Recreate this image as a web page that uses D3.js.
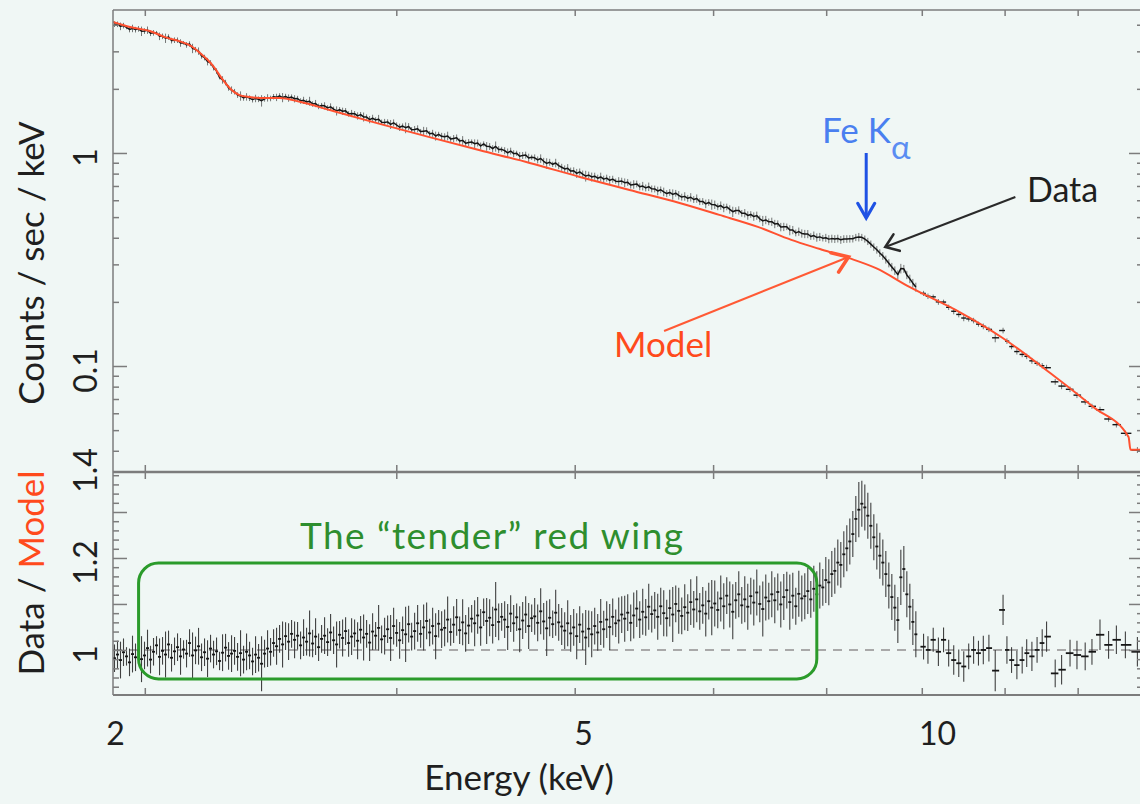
<!DOCTYPE html>
<html>
<head>
<meta charset="utf-8">
<script src="https://cdn.jsdelivr.net/npm/d3@7"></script>
<style>
  html, body { margin: 0; padding: 0; background: #f0f7f5; }
  svg { display: block; font-family: Lato, "Open Sans", sans-serif; }
</style>
</head>
<body>
<svg id="chart" width="1140" height="804"></svg>
<script>
// ---------------- data ----------------
// Continuum model (counts / sec / keV) at knot energies (keV)
const modelEnergy = [1.90, 1.953, 2.016, 2.066, 2.119, 2.154, 2.186, 2.214, 2.238, 2.263, 2.293, 2.330, 2.368, 2.426,
  2.485, 2.568, 2.695, 2.921, 3.16, 3.433, 3.72, 4.033, 4.37, 4.737, 5.05, 5.374, 5.672, 5.94, 6.225, 6.502, 6.862,
  7.44, 7.98, 8.61, 9.23, 9.77, 9.80, 10.0];
const modelFlux = [4.12, 3.90, 3.74, 3.50, 3.33, 3.18, 2.95, 2.73, 2.51, 2.25, 2.02, 1.87, 1.83, 1.81,
  1.81, 1.74, 1.59, 1.37, 1.19, 1.03, 0.898, 0.772, 0.670, 0.582, 0.512, 0.450, 0.391, 0.354, 0.321, 0.288, 0.235,
  0.179, 0.135, 0.0927, 0.0642, 0.0464, 0.0405, 0.0405];

// Fine channels: equal log-width bins between these energies (keV)
const denseStart = 1.9, denseEnd = 6.95;
// Data / model ratio in each fine channel
const denseRatio = [
  0.982, 0.990, 0.978, 0.995, 0.986, 0.973, 0.991, 0.984, 0.999, 0.980,
  0.988, 1.004, 0.979, 0.996, 1.010, 0.985, 0.998, 0.990, 1.012, 0.983,
  0.997, 1.006, 0.986, 1.001, 0.992, 1.015, 0.988, 0.999, 1.008, 0.984,
  0.995, 0.981, 1.003, 0.990, 0.997, 0.976, 0.994, 1.005, 0.987, 0.992,
  0.998, 0.985, 0.993, 0.979, 0.996, 0.988, 0.975, 0.990, 0.983, 0.970,
  0.992, 1.003, 0.996, 1.015, 1.008, 1.024, 1.012, 1.030, 1.018, 1.035,
  1.022, 1.031, 1.010, 1.027, 1.018, 1.036, 1.014, 1.029, 1.006, 1.024,
  1.031, 1.017, 1.038, 1.021, 1.012, 1.033, 1.026, 1.041, 1.015, 1.029,
  1.036, 1.020, 1.044, 1.027, 1.035, 1.016, 1.040, 1.031, 1.048, 1.023,
  1.030, 1.045, 1.026, 1.052, 1.037, 1.021, 1.043, 1.034, 1.056, 1.029,
  1.041, 1.058, 1.035, 1.049, 1.063, 1.038, 1.052, 1.030, 1.057, 1.044,
  1.048, 1.066, 1.039, 1.055, 1.071, 1.043, 1.060, 1.036, 1.053, 1.068,
  1.058, 1.075, 1.049, 1.082, 1.063, 1.070, 1.054, 1.088, 1.061, 1.072,
  1.066, 1.050, 1.079, 1.058, 1.071, 1.045, 1.064, 1.077, 1.052, 1.069,
  1.073, 1.059, 1.084, 1.062, 1.047, 1.070, 1.056, 1.081, 1.060, 1.051,
  1.042, 1.058, 1.036, 1.049, 1.030, 1.055, 1.040, 1.027, 1.046, 1.034,
  1.052, 1.038, 1.061, 1.045, 1.066, 1.050, 1.072, 1.058, 1.064, 1.077,
  1.068, 1.081, 1.059, 1.075, 1.090, 1.066, 1.083, 1.071, 1.094, 1.078,
  1.086, 1.072, 1.095, 1.080, 1.069, 1.091, 1.077, 1.100, 1.085, 1.074,
  1.093, 1.081, 1.104, 1.088, 1.110, 1.084, 1.097, 1.079, 1.106, 1.092,
  1.101, 1.087, 1.112, 1.095, 1.118, 1.099, 1.083, 1.108, 1.121, 1.097,
  1.110, 1.094, 1.117, 1.103, 1.125, 1.100, 1.089, 1.114, 1.106, 1.121,
  1.108, 1.126, 1.099, 1.115, 1.130, 1.104, 1.118, 1.095, 1.122, 1.112,
  1.117, 1.128, 1.110, 1.133, 1.121, 1.140, 1.136, 1.152, 1.147, 1.165,
  1.172, 1.190, 1.185, 1.208, 1.221, 1.236, 1.252, 1.285, 1.305, 1.318,
  1.310, 1.292, 1.270, 1.245, 1.225, 1.205, 1.190, 1.165, 1.140, 1.115,
  1.092, 1.065, 1.158, 1.176, 1.121, 1.094, 1.061, 1.034
];
// 1-sigma error of each fine channel ratio, in units of 0.01
const denseErr = [
  3, 3, 4, 3, 2, 3, 4, 3, 3, 5,   3, 4, 3, 3, 2, 4, 3, 5, 3, 3,
  3, 3, 4, 2, 3, 3, 5, 3, 4, 3,   3, 4, 3, 3, 3, 2, 4, 3, 3, 4,
  3, 3, 5, 3, 4, 3, 3, 4, 3, 6,   3, 4, 3, 3, 4, 3, 5, 3, 4, 3,
  4, 3, 3, 4, 3, 5, 3, 4, 3, 3,   4, 3, 4, 3, 5, 3, 4, 3, 3, 4,
  3, 4, 3, 5, 3, 4, 4, 3, 5, 3,   4, 3, 5, 4, 3, 4, 3, 6, 4, 3,
  4, 4, 3, 5, 4, 3, 4, 5, 3, 4,   4, 5, 3, 4, 4, 3, 5, 4, 4, 3,
  5, 4, 4, 3, 5, 4, 4, 6, 4, 3,   4, 5, 4, 4, 3, 5, 4, 4, 5, 3,
  4, 4, 5, 4, 6, 4, 3, 5, 4, 4,   4, 5, 4, 4, 5, 4, 4, 6, 4, 5,
  4, 4, 5, 4, 4, 5, 4, 3, 5, 4,   5, 4, 4, 5, 4, 4, 5, 4, 5, 4,
  4, 5, 4, 5, 4, 4, 6, 4, 5, 4,   5, 4, 5, 4, 5, 4, 4, 5, 4, 6,
  5, 4, 5, 5, 4, 5, 6, 4, 5, 4,   5, 5, 4, 5, 5, 4, 6, 5, 4, 5,
  5, 4, 5, 5, 4, 6, 5, 4, 5, 5,   5, 5, 4, 5, 5, 5, 4, 5, 5, 5,
  5, 5, 5, 5, 5, 5, 5, 5, 6, 5,   5, 5, 5, 5, 5, 5, 5, 5, 5, 5,
  5, 5, 6, 5, 5, 5, 5, 5
];

// Grouped channels above the fine range
const coarseEnergy = [7.02, 7.07, 7.13, 7.19, 7.25, 7.31, 7.37, 7.43, 7.49, 7.55, 7.61, 7.67, 7.73, 7.80, 7.88,
  7.98, 8.03, 8.09, 8.16, 8.23, 8.29, 8.36, 8.43, 8.50, 8.56, 8.68, 8.77, 8.89, 8.99, 9.11, 9.21, 9.33, 9.46,
  9.58, 9.72, 9.91];
const coarseRatio = [1.007, 1.000, 1.022, 0.996, 1.022, 0.993, 0.978, 0.971, 0.964, 0.986, 1.000, 0.993, 1.000,
  1.004, 0.955, 1.087, 1.000, 0.978, 0.967, 0.978, 0.993, 0.986, 1.000, 1.015, 1.029, 0.949, 0.957, 0.993,
  0.989, 0.986, 0.996, 1.033, 1.011, 1.022, 1.011, 0.996];
const coarseErr = [0.028, 0.030, 0.026, 0.031, 0.027, 0.029, 0.032, 0.030, 0.033, 0.028, 0.030, 0.027, 0.031,
  0.029, 0.045, 0.033, 0.030, 0.028, 0.031, 0.029, 0.030, 0.032, 0.028, 0.030, 0.033, 0.030, 0.032, 0.029,
  0.031, 0.030, 0.028, 0.033, 0.030, 0.031, 0.029, 0.032];

// Axis ticks and labels
const energyTicks = [2, 3, 4, 5, 6, 7, 8, 9];
const energyLabels = [2, 5, 10];
const fluxMajor = [0.1, 1];
const fluxMinor = [0.04, 0.05, 0.06, 0.07, 0.08, 0.09, 0.2, 0.3, 0.4, 0.5, 0.6, 0.7, 0.8, 0.9, 2, 3, 4];
const ratioMajor = [1.0, 1.1, 1.2, 1.3];
const ratioLabels = [1, 1.2, 1.4];

// ---------------- layout ----------------
const W = 1140, H = 804;
const xL = 113, xR = 1143, yT = 10, yM = 472, yB = 695;
const FONT = 'Lato, "Open Sans", sans-serif';
const INK = "#1f1f1f", FRAME = "#7c7c7c", RED = "#ff5130";

const svg = d3.select("#chart");
svg.append("rect").attr("width", W).attr("height", H).attr("fill", "#f0f7f5");

const x = d3.scaleLog().domain([1.9, 10]).range([xL, xR]);
const yTop = d3.scaleLog().domain([0.0318, 4.69]).range([yM, yT]);
const yBot = d3.scaleLinear().domain([0.902, 1.387]).range([yB, yM]);
// label row under the lower panel
const xLabel = d3.scaleLog().domain([2, 10]).range([115, 937]);

const defs = svg.append("defs");
defs.append("clipPath").attr("id", "clipTop").append("rect")
  .attr("x", xL).attr("y", yT).attr("width", xR - xL).attr("height", yM - yT);
defs.append("clipPath").attr("id", "clipBot").append("rect")
  .attr("x", xL).attr("y", yM).attr("width", xR - xL).attr("height", yB - yM);

// ---------------- channels ----------------
const lnStep = Math.log(denseEnd / denseStart) / denseRatio.length;
const dense = denseRatio.map((r, i) => ({
  lo: denseStart * Math.exp(lnStep * i),
  hi: denseStart * Math.exp(lnStep * (i + 1)),
  e: denseStart * Math.exp(lnStep * (i + 0.5)),
  r, err: denseErr[i] / 100
}));
const coarse = coarseEnergy.map((e, i) => {
  const prev = i > 0 ? coarseEnergy[i - 1] : denseEnd;
  const next = i < coarseEnergy.length - 1 ? coarseEnergy[i + 1] : 10;
  return { e, lo: Math.sqrt(prev * e), hi: Math.sqrt(e * next), r: coarseRatio[i], err: coarseErr[i] };
});
const channels = dense.concat(coarse);

// model value at an energy (straight segments in log-log between knots)
function modelAt(E) {
  const i = Math.max(1, Math.min(modelEnergy.length - 1, d3.bisectLeft(modelEnergy, E)));
  const e0 = modelEnergy[i - 1], e1 = modelEnergy[i];
  const f0 = modelFlux[i - 1], f1 = modelFlux[i];
  const t = Math.log(E / e0) / Math.log(e1 / e0);
  return Math.exp(Math.log(f0) + t * Math.log(f1 / f0));
}

// ---------------- upper panel: spectrum ----------------
const gTop = svg.append("g").attr("clip-path", "url(#clipTop)");
const spec = gTop.append("g");
spec.selectAll("line.ev").data(channels).join("line").attr("class", "ev")
  .attr("x1", d => x(d.e)).attr("x2", d => x(d.e))
  .attr("y1", d => yTop(modelAt(d.e) * (d.r - d.err)))
  .attr("y2", d => yTop(modelAt(d.e) * (d.r + d.err)))
  .attr("stroke", "#222").attr("stroke-width", 1).attr("stroke-opacity", 0.6);
// fine channels joined into a trace
spec.append("path").datum(dense)
  .attr("d", d3.line().x(d => x(d.e)).y(d => yTop(modelAt(d.e) * d.r)))
  .attr("fill", "none").attr("stroke", "#151515").attr("stroke-width", 1.5).attr("stroke-linejoin", "round");
spec.selectAll("line.eh").data(coarse).join("line").attr("class", "eh")
  .attr("x1", d => x(d.lo)).attr("x2", d => x(d.hi))
  .attr("y1", d => yTop(modelAt(d.e) * d.r)).attr("y2", d => yTop(modelAt(d.e) * d.r))
  .attr("stroke", "#151515").attr("stroke-width", 1.4);

const modelPts = modelEnergy.map((e, i) => [e, modelFlux[i]]);
gTop.append("path").datum(modelPts)
  .attr("d", d3.line().curve(d3.curveMonotoneX).x(d => x(d[0])).y(d => yTop(d[1])))
  .attr("fill", "none").attr("stroke", RED).attr("stroke-width", 2).attr("stroke-linejoin", "round");

// ---------------- lower panel: ratio ----------------
const gBot = svg.append("g").attr("clip-path", "url(#clipBot)");
gBot.append("line").attr("x1", xL).attr("x2", xR).attr("y1", yBot(1)).attr("y2", yBot(1))
  .attr("stroke", "#a9a9a9").attr("stroke-width", 2).attr("stroke-dasharray", "9,7");
gBot.selectAll("line.rv").data(channels).join("line").attr("class", "rv")
  .attr("x1", d => x(d.e)).attr("x2", d => x(d.e))
  .attr("y1", d => yBot(d.r - d.err)).attr("y2", d => yBot(d.r + d.err))
  .attr("stroke", "#2c2c2c").attr("stroke-width", 1.1).attr("stroke-opacity", 0.9);
gBot.selectAll("line.rh").data(channels).join("line").attr("class", "rh")
  .attr("x1", d => x(d.lo)).attr("x2", d => x(d.hi))
  .attr("y1", d => yBot(d.r)).attr("y2", d => yBot(d.r))
  .attr("stroke", "#151515").attr("stroke-width", 1.8);

// ---------------- axes ----------------
function tickOnly(sel) {
  sel.select(".domain").remove();
  sel.selectAll("text").remove();
  sel.selectAll(".tick line").attr("stroke", FRAME).attr("stroke-width", 1.5);
}
const ratioMinor = d3.range(46, 70).map(k => k / 50)
  .filter(v => v <= 1.386 && Math.abs(v * 10 - Math.round(v * 10)) > 1e-6);
// left / right
[[d3.axisLeft, xL], [d3.axisRight, xR]].forEach(([ax, px]) => {
  svg.append("g").attr("transform", `translate(${px},0)`).call(ax(yTop).tickValues(fluxMinor).tickSize(-6)).call(tickOnly);
  svg.append("g").attr("transform", `translate(${px},0)`).call(ax(yTop).tickValues(fluxMajor).tickSize(-14)).call(tickOnly);
  svg.append("g").attr("transform", `translate(${px},0)`).call(ax(yBot).tickValues(ratioMinor).tickSize(-6)).call(tickOnly);
  svg.append("g").attr("transform", `translate(${px},0)`).call(ax(yBot).tickValues(ratioMajor).tickSize(-14)).call(tickOnly);
});
// top / middle / bottom energy ticks
svg.append("g").attr("transform", `translate(0,${yT})`).call(d3.axisTop(x).tickValues(energyTicks).tickSize(-6)).call(tickOnly);
svg.append("g").attr("transform", `translate(0,${yM})`).call(d3.axisBottom(x).tickValues(energyTicks).tickSize(-7)).call(tickOnly);
svg.append("g").attr("transform", `translate(0,${yM})`).call(d3.axisTop(x).tickValues(energyTicks).tickSize(-7)).call(tickOnly);
svg.append("g").attr("transform", `translate(0,${yB})`).call(d3.axisBottom(x).tickValues(energyTicks).tickSize(-7)).call(tickOnly);

// frame
const frame = svg.append("g").attr("stroke", FRAME).attr("fill", "none");
frame.append("line").attr("x1", xL).attr("x2", xR).attr("y1", yT).attr("y2", yT).attr("stroke-width", 1.5);
frame.append("line").attr("x1", xL).attr("x2", xR).attr("y1", yM).attr("y2", yM).attr("stroke-width", 2.5);
frame.append("line").attr("x1", xL).attr("x2", xR).attr("y1", yB).attr("y2", yB).attr("stroke-width", 2);
frame.append("line").attr("x1", xL).attr("x2", xL).attr("y1", yT).attr("y2", yB).attr("stroke-width", 1.5);
frame.append("line").attr("x1", xR).attr("x2", xR).attr("y1", yT).attr("y2", yB).attr("stroke-width", 1.5);

// tick labels (rotated on the y axes)
function rotLabels(sel) {
  sel.attr("font-family", FONT).attr("font-size", 32);
  sel.select(".domain").remove();
  sel.selectAll(".tick line").remove();
  sel.selectAll("text").attr("x", 0).attr("dy", null).attr("fill", INK)
    .attr("text-anchor", "middle").attr("transform", "translate(-16,4) rotate(-90)");
}
svg.append("g").attr("transform", `translate(${xL},0)`)
  .call(d3.axisLeft(yTop).tickValues(fluxMajor).tickSize(0).tickFormat(d => d >= 1 ? "1" : "0.1")).call(rotLabels);
svg.append("g").attr("transform", `translate(${xL},0)`)
  .call(d3.axisLeft(yBot).tickValues(ratioLabels).tickSize(0).tickFormat(d => d === 1 ? "1" : d3.format(".1f")(d))).call(rotLabels);

svg.append("g").attr("transform", `translate(0,${yB})`)
  .call(d3.axisBottom(xLabel).tickValues(energyLabels).tickSize(0).tickPadding(27).tickFormat(d3.format("d")))
  .call(sel => {
    sel.attr("font-family", FONT).attr("font-size", 32);
    sel.select(".domain").remove();
    sel.selectAll("text").attr("fill", INK);
  });

// axis titles
svg.append("text").attr("transform", "translate(44,263) rotate(-90)").attr("text-anchor", "middle")
  .attr("font-family", FONT).attr("font-size", 35).attr("fill", INK).text("Counts / sec / keV");
const rt = svg.append("text").attr("transform", "translate(44,573) rotate(-90)").attr("text-anchor", "middle")
  .attr("font-family", FONT).attr("font-size", 35);
rt.append("tspan").attr("fill", INK).text("Data / ");
rt.append("tspan").attr("fill", "#ff4a1c").text("Model");
svg.append("text").attr("x", 519).attr("y", 790).attr("text-anchor", "middle")
  .attr("font-family", FONT).attr("font-size", 35).attr("fill", INK).text("Energy (keV)");

// ---------------- annotations ----------------
function arrowHead(g, x1, y1, x2, y2, len, deg, color, width) {
  const a = Math.atan2(y1 - y2, x1 - x2), s = deg * Math.PI / 180;
  const p = [[x2 + len * Math.cos(a + s), y2 + len * Math.sin(a + s)], [x2, y2], [x2 + len * Math.cos(a - s), y2 + len * Math.sin(a - s)]];
  g.append("path").attr("d", d3.line()(p)).attr("fill", "none").attr("stroke", color)
    .attr("stroke-width", width).attr("stroke-linejoin", "miter").attr("stroke-linecap", "round");
}
function arrow(x1, y1, x2, y2, color, w, headW, len, deg) {
  const g = svg.append("g");
  g.append("line").attr("x1", x1).attr("y1", y1).attr("x2", x2).attr("y2", y2)
    .attr("stroke", color).attr("stroke-width", w);
  arrowHead(g, x1, y1, x2, y2, len, deg, color, headW);
}

// Fe K-alpha line marker
arrow(x(6.4), yTop(1.0), x(6.4), yTop(0.495), "#1f52e4", 3, 3.2, 17, 30);
const fe = svg.append("text").attr("x", 822).attr("y", 143).attr("font-family", FONT)
  .attr("font-size", 35).attr("fill", "#4a7ff0");
fe.append("tspan").text("Fe K");
fe.append("tspan").attr("dy", 16).attr("font-size", 33).attr("fill", "#5b8df2").text("α");

// Data pointer
svg.append("text").attr("x", 1027).attr("y", 202).attr("font-family", FONT)
  .attr("font-size", 34).attr("fill", INK).text("Data");
arrow(x(8.14), yTop(0.621), x(6.60), yTop(0.362), "#2a2a2a", 2, 2.6, 15, 36);

// Model pointer
svg.append("text").attr("x", 614).attr("y", 357).attr("font-family", FONT)
  .attr("font-size", 35).attr("fill", "#ff4a1c").text("Model");
arrow(x(4.62), yTop(0.146), x(6.22), yTop(0.325), "#ff5a35", 2, 3.6, 18, 35);

// red wing box
svg.append("rect")
  .attr("x", x(1.98)).attr("y", yBot(1.189))
  .attr("width", x(5.91) - x(1.98)).attr("height", yBot(0.937) - yBot(1.189))
  .attr("rx", 20).attr("ry", 20)
  .attr("fill", "none").attr("stroke", "#2b9b2b").attr("stroke-width", 3);
svg.append("text").attr("x", 300).attr("y", 549).attr("font-family", FONT)
  .attr("font-size", 37).attr("fill", "#2e8e2e")
  .attr("textLength", 383).attr("lengthAdjust", "spacing")
  .text("The “tender” red wing");
</script>
</body>
</html>
